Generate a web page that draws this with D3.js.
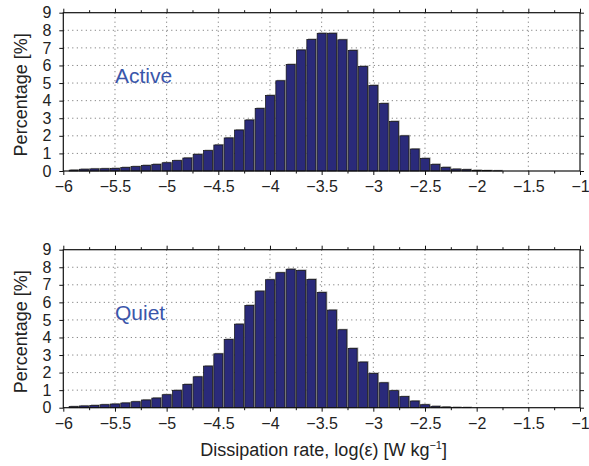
<!DOCTYPE html>
<html>
<head>
<meta charset="utf-8">
<script src="https://cdn.jsdelivr.net/npm/d3@7"></script>
<style>
  body { margin: 0; background: #fff; }
  svg { display: block; font-family: "Liberation Sans", Arial, sans-serif; }
</style>
</head>
<body>
<div id="chart"></div>
<script>
// bin centres of the histogram, log10 of dissipation rate
const binCenters = [
  -5.9, -5.8, -5.7, -5.6, -5.5, -5.4, -5.3, -5.2, -5.1, -5.0,
  -4.9, -4.8, -4.7, -4.6, -4.5, -4.4, -4.3, -4.2, -4.1, -4.0,
  -3.9, -3.8, -3.7, -3.6, -3.5, -3.4, -3.3, -3.2, -3.1, -3.0,
  -2.9, -2.8, -2.7, -2.6, -2.5, -2.4, -2.3, -2.2, -2.1, -2.0,
  -1.9, -1.8
];

const activeValues = [
  0.05, 0.10, 0.12, 0.13, 0.15, 0.20, 0.25, 0.32, 0.38, 0.47,
  0.59, 0.74, 0.95, 1.16, 1.48, 1.88, 2.33, 2.90, 3.56, 4.30,
  5.13, 6.06, 6.88, 7.48, 7.83, 7.83, 7.46, 6.86, 5.95, 4.87,
  3.84, 2.82, 2.00, 1.25, 0.72, 0.38, 0.21, 0.11, 0.08, 0.04,
  0.02, 0.01
];

const quietValues = [
  0.06, 0.10, 0.13, 0.17, 0.21, 0.27, 0.34, 0.44, 0.55, 0.74,
  0.99, 1.33, 1.76, 2.37, 3.07, 3.89, 4.76, 5.83, 6.64, 7.29,
  7.69, 7.89, 7.82, 7.31, 6.57, 5.56, 4.44, 3.38, 2.60, 1.95,
  1.42, 0.97, 0.63, 0.38, 0.17, 0.08, 0.04, 0.02, 0.01, 0.00,
  0.00, 0.00
];

const xTicks = [-6, -5.5, -5, -4.5, -4, -3.5, -3, -2.5, -2, -1.5, -1];
const xMinorTicks = [-5.75, -5.25, -4.75, -4.25, -3.75, -3.25, -2.75, -2.25, -1.75, -1.25];
const yTicks = [0, 1, 2, 3, 4, 5, 6, 7, 8, 9];

const panels = [
  { name: "Active", values: activeValues, top: 12.7, bottom: 171 },
  { name: "Quiet", values: quietValues, top: 249.7, bottom: 407.7 }
];

let width = 589;
let height = 466;
let left = 63.3;
let right = 580;
let binWidth = 0.1;

let svg = d3.select('#chart')
  .append('svg')
  .attr('width', width)
  .attr('height', height);

let x = d3.scaleLinear().domain([-6, -1]).range([left, right]);
let fmt = d3.format('');

panels.forEach(function (p) {
  let y = d3.scaleLinear().domain([0, 9]).range([p.bottom, p.top]);
  let g = svg.append('g');

  // dotted grid
  g.append('g').selectAll('line.vg')
    .data(xTicks.slice(1, -1))
    .enter().append('line')
    .attr('x1', d => x(d)).attr('x2', d => x(d))
    .attr('y1', p.top).attr('y2', p.bottom)
    .attr('stroke', '#444').attr('stroke-width', 0.8)
    .attr('stroke-dasharray', '1,3.5');
  g.append('g').selectAll('line.hg')
    .data(yTicks.slice(1, -1))
    .enter().append('line')
    .attr('y1', d => y(d)).attr('y2', d => y(d))
    .attr('x1', left).attr('x2', right)
    .attr('stroke', '#444').attr('stroke-width', 0.8)
    .attr('stroke-dasharray', '1,3.5');

  let bw = x(-6 + binWidth) - x(-6);
  let barW = bw * 0.87;
  let bars = binCenters.map((c, i) => ({ c: c, v: p.values[i] })).filter(d => d.v > 0);

  // light shadow behind each bar
  g.append('g').selectAll('rect')
    .data(bars)
    .enter().append('rect')
    .attr('x', d => x(d.c) - barW / 2 + 1.2)
    .attr('y', d => y(d.v) - 1)
    .attr('width', barW)
    .attr('height', d => p.bottom - y(d.v) + 1)
    .attr('fill', '#a8a8a8');

  g.append('g').selectAll('rect')
    .data(bars)
    .enter().append('rect')
    .attr('x', d => x(d.c) - barW / 2)
    .attr('y', d => y(d.v))
    .attr('width', barW)
    .attr('height', d => p.bottom - y(d.v))
    .attr('fill', '#2a2a7a')
    .attr('stroke', '#111')
    .attr('stroke-width', 0.7);

  // box
  g.append('rect')
    .attr('x', left).attr('y', p.top)
    .attr('width', right - left).attr('height', p.bottom - p.top)
    .attr('fill', 'none').attr('stroke', '#111').attr('stroke-width', 1.2);

  // axes
  g.append('g')
    .attr('transform', 'translate(0,' + p.bottom + ')')
    .call(d3.axisBottom(x).tickValues(xTicks).tickFormat(fmt).tickSizeInner(4).tickSizeOuter(0).tickPadding(6));
  g.append('g')
    .attr('transform', 'translate(0,' + p.bottom + ')')
    .call(d3.axisBottom(x).tickValues(xMinorTicks).tickFormat('').tickSizeInner(2.5).tickSizeOuter(0));
  g.append('g')
    .attr('transform', 'translate(0,' + p.top + ')')
    .call(d3.axisTop(x).tickValues(xTicks).tickFormat('').tickSizeInner(4).tickSizeOuter(0));
  g.append('g')
    .attr('transform', 'translate(0,' + p.top + ')')
    .call(d3.axisTop(x).tickValues(xMinorTicks).tickFormat('').tickSizeInner(2.5).tickSizeOuter(0));
  g.append('g')
    .attr('transform', 'translate(' + left + ',0)')
    .call(d3.axisLeft(y).tickValues(yTicks).tickFormat(fmt).tickSizeInner(4).tickSizeOuter(0).tickPadding(8));
  g.append('g')
    .attr('transform', 'translate(' + right + ',0)')
    .call(d3.axisRight(y).tickValues(yTicks).tickFormat('').tickSizeInner(4).tickSizeOuter(0));

  g.selectAll('.domain').remove();
  g.selectAll('.tick line').attr('stroke', '#111');
  g.selectAll('.tick text')
    .attr('fill', '#222')
    .style('font-size', '16px')
    .style('font-family', '"Liberation Sans", Arial, sans-serif');

  g.append('text')
    .attr('transform', 'translate(27,' + ((p.top + p.bottom) / 2 + 3) + ') rotate(-90)')
    .attr('text-anchor', 'middle')
    .attr('fill', '#222')
    .style('font-size', '18px')
    .text('Percentage [%]');

  g.append('text')
    .attr('x', 115)
    .attr('y', p.top + 70)
    .attr('fill', '#3a56aa')
    .style('font-size', '21px')
    .text(p.name);
});

svg.append('text')
  .attr('x', (left + right) / 2 + 2)
  .attr('y', 456)
  .attr('text-anchor', 'middle')
  .attr('fill', '#222')
  .style('font-size', '18px')
  .html('Dissipation rate, log(ε) [W kg<tspan dy="-7" style="font-size:11px">−1</tspan><tspan dy="7">]</tspan>');
</script>
</body>
</html>
